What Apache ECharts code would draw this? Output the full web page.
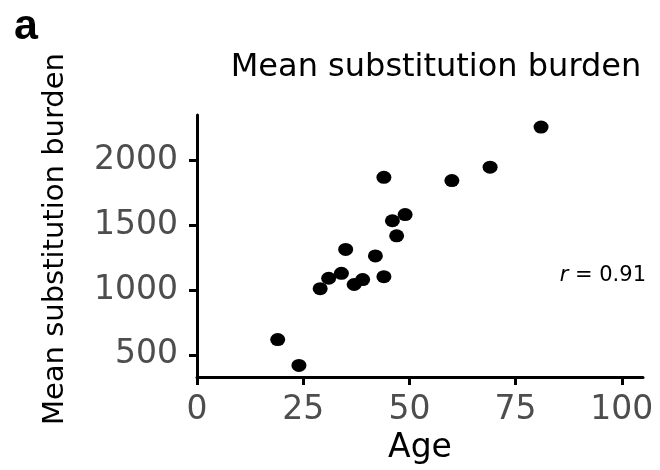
<!DOCTYPE html>
<html>
<head>
<meta charset="utf-8">
<script src="https://cdn.jsdelivr.net/npm/echarts@6/dist/echarts.min.js"></script>
<style>
  html, body { margin: 0; padding: 0; background: #ffffff; }
  #chart { width: 660px; height: 470px; }
</style>
</head>
<body>
<div id="chart"></div>
<script>
// Donor age vs. mean substitution burden
const ages = [19, 24, 29, 31, 34, 35, 37, 39, 42, 44, 44, 46, 47, 49, 60, 69, 81];
const burden = [618, 419, 1010, 1090, 1128, 1312, 1042, 1080, 1262, 1102, 1867, 1533, 1417, 1580, 1842, 1945, 2254];
const xTicks = [0, 25, 50, 75, 100];
const yTicks = [500, 1000, 1500, 2000];
const panelLabel = 'a';
const chartTitle = 'Mean substitution burden';
const xTitle = 'Age';
const yTitle = 'Mean substitution burden';
const corrValue = '0.91';

const FONT = 'DejaVu Sans';
const points = ages.map((a, i) => [a, burden[i]]);

const chart = echarts.init(document.getElementById('chart'), null, { renderer: 'canvas' });

const axisLineStyle = { color: '#000000', width: 3 };
const plain = v => String(v);

chart.setOption({
  animation: false,
  backgroundColor: '#ffffff',
  title: [
    {
      text: panelLabel,
      left: 9,
      top: 1,
      textStyle: { fontFamily: "'Liberation Sans', Arial, sans-serif", fontWeight: 'bold', fontSize: 43, color: '#000000' }
    },
    {
      text: chartTitle,
      left: 431,
      top: 47,
      textAlign: 'center',
      textStyle: { fontFamily: FONT, fontWeight: 'normal', fontSize: 32, color: '#000000' }
    }
  ],
  grid: { left: 197, right: 17, top: 115, bottom: 87, containLabel: false },
  xAxis: {
    type: 'value',
    min: 0,
    max: 105,
    name: xTitle,
    nameLocation: 'middle',
    nameGap: 54,
    nameTextStyle: { fontFamily: FONT, fontSize: 33, color: '#000000' },
    axisLine: { show: true, onZero: false, lineStyle: axisLineStyle },
    axisTick: { show: true, length: 8, lineStyle: axisLineStyle, customValues: xTicks },
    axisLabel: {
      show: true, margin: 17, fontFamily: FONT, fontSize: 33, color: '#4D4D4D',
      customValues: xTicks, formatter: plain
    },
    splitLine: { show: false }
  },
  yAxis: {
    type: 'value',
    min: 329,
    max: 2347,
    name: yTitle,
    nameLocation: 'middle',
    nameRotate: 90,
    nameGap: 127,
    nameTextStyle: { fontFamily: FONT, fontSize: 29, color: '#000000', padding: [0, 0, 0, 14] },
    axisLine: { show: true, onZero: false, lineStyle: axisLineStyle },
    axisTick: { show: true, length: 8, lineStyle: axisLineStyle, customValues: yTicks },
    axisLabel: {
      show: true, margin: 19, fontFamily: FONT, fontSize: 33, color: '#4D4D4D',
      customValues: yTicks, formatter: plain
    },
    splitLine: { show: false }
  },
  graphic: [
    {
      type: 'text',
      x: 646,
      y: 276,
      style: {
        text: '{i|r} = ' + corrValue,
        fontFamily: FONT,
        fontSize: 21,
        fill: '#000000',
        align: 'right',
        verticalAlign: 'middle',
        rich: {
          i: { fontFamily: FONT, fontSize: 21, fontStyle: 'italic', fill: '#000000' }
        }
      }
    }
  ],
  series: [
    {
      type: 'scatter',
      data: points,
      symbol: 'circle',
      symbolSize: [15, 13],
      itemStyle: { color: '#000000', opacity: 1 },
      silent: true
    }
  ]
});
</script>
</body>
</html>
